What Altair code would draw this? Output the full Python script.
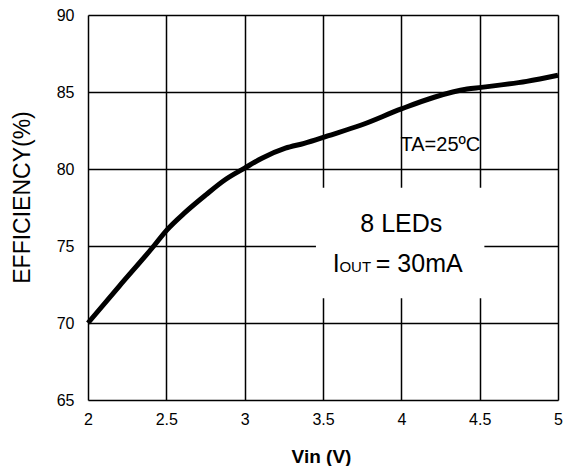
import altair as alt
import pandas as pd

# Curve data
vin = [2.0, 2.2, 2.42, 2.5, 2.62, 2.75, 2.875, 3.0, 3.11, 3.26, 3.38, 3.53,
       3.74, 4.0, 4.21, 4.42, 4.51, 4.8, 5.0]
eff = [70.0, 72.4, 75.0, 76.0, 77.18, 78.3, 79.3, 80.06, 80.7, 81.35, 81.67,
       82.15, 82.84, 83.9, 84.66, 85.19, 85.3, 85.69, 86.09]

x_ticks = [2, 2.5, 3, 3.5, 4, 4.5, 5]
y_ticks = [65, 70, 75, 80, 85, 90]

# Annotation text
ann_text = ["8 LEDs", "I", "OUT", "= 30mA", "TA=25ºC"]
ann_x = [4.0, 3.563, 3.605, 3.837, 3.995]
ann_y = [75.9, 73.33, 73.33, 73.33, 81.17]
ann_size = [25, 25, 15, 25, 20]
ann_align = ["center", "left", "left", "left", "left"]

# White label box behind the annotation
box = pd.DataFrame({"x": [3.455], "x2": [4.53], "y": [78.78], "y2": [71.6]})

df = pd.DataFrame({"vin": vin, "eff": eff})
ann = pd.DataFrame({"t": ann_text, "x": ann_x, "y": ann_y,
                    "s": ann_size, "a": ann_align})

FONT = "Liberation Sans"

xscale = alt.Scale(domain=[2, 5], nice=False, zero=False)
yscale = alt.Scale(domain=[65, 90], nice=False, zero=False)

xaxis = alt.Axis(values=x_ticks, format="~g", title="Vin (V)", grid=True,
                 gridColor="black", gridWidth=1.5, gridOpacity=1,
                 domain=False, ticks=False,
                 labelFont=FONT, labelFontSize=16, labelColor="black",
                 labelPadding=11, labelFlush=False,
                 titleFont=FONT, titleFontSize=19, titleFontWeight="bold",
                 titleColor="black", titleX=233, titleY=62,
                 titleBaseline="alphabetic", titleAlign="center")
yaxis = alt.Axis(values=y_ticks, format="~g", title="EFFICIENCY(%)", grid=True,
                 gridColor="black", gridWidth=1.5, gridOpacity=1,
                 domain=False, ticks=False,
                 labelFont=FONT, labelFontSize=16, labelColor="black",
                 labelPadding=14, labelFlush=False,
                 titleFont=FONT, titleFontSize=23, titleFontWeight="normal",
                 titleColor="black", titleX=-66, titleY=182, titleAngle=270,
                 titleAlign="center", titleBaseline="middle")

line = alt.Chart(df).mark_line(color="black", strokeWidth=5,
                               interpolate="monotone").encode(
    x=alt.X("vin:Q", scale=xscale, axis=xaxis),
    y=alt.Y("eff:Q", scale=yscale, axis=yaxis),
)

rect = alt.Chart(box).mark_rect(color="white").encode(
    x=alt.X("x:Q", scale=xscale), x2="x2:Q",
    y=alt.Y("y:Q", scale=yscale), y2="y2:Q",
)

layers = [rect, line]
for i in range(len(ann_text)):
    sub = ann.iloc[[i]]
    layers.append(
        alt.Chart(sub).mark_text(font=FONT, fontSize=ann_size[i],
                                 align=ann_align[i], baseline="alphabetic",
                                 color="black").encode(
            x=alt.X("x:Q", scale=xscale), y=alt.Y("y:Q", scale=yscale),
            text="t:N")
    )

chart = alt.layer(*layers).properties(
    width=470, height=385,
    autosize=alt.AutoSizeParams(type="none"),
    padding={"left": 80, "top": 7, "right": 6, "bottom": 66},
).configure_view(stroke="black", strokeWidth=3).configure(background="white")

chart.save("out.html", embed_options={"renderer": "svg", "actions": False})
